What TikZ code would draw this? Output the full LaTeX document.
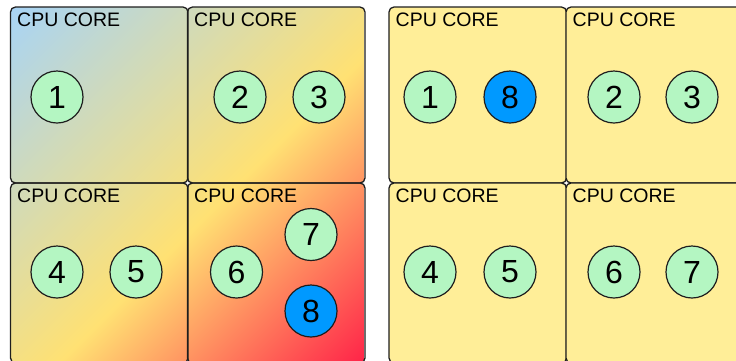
\documentclass[tikz,border=0pt]{standalone}
\usepackage{fontspec}
\setmainfont{Liberation Sans}

\definecolor{cpublue}{HTML}{A8D4F6}
\definecolor{cpuyellow}{HTML}{FFE173}
\definecolor{cpured}{HTML}{FF2448}
\definecolor{corefill}{HTML}{FFEE98}
\definecolor{threadgreen}{HTML}{B4F6C2}
\definecolor{threadblue}{HTML}{0099FF}
\definecolor{edge}{HTML}{1E1E1E}

% diagonal gradient: blue (top left) -> yellow -> red (bottom right)
\pgfdeclarehorizontalshading{cpudiag}{100bp}{%
  color(0bp)=(cpublue); color(14.6bp)=(cpublue);
  color(55bp)=(cpuyellow);
  color(85.4bp)=(cpured); color(100bp)=(cpured)}

\tikzset{
  corebox/.style={draw=edge, line width=1.3pt, rounded corners=5pt,
    minimum width=177.5pt, minimum height=176pt, inner sep=0pt, outer sep=0pt},
  lowbox/.style={corebox, minimum height=180pt},
  corelabel/.style={anchor=base west, inner sep=0pt, font=\fontsize{19.5pt}{20pt}\selectfont},
  thread/.style={circle, draw=edge, line width=1.2pt, fill=threadgreen,
    minimum size=52pt, inner sep=0pt, font=\fontsize{32pt}{32pt}\selectfont},
  hot/.style={fill=threadblue},
}

\begin{document}
\begin{tikzpicture}[x=1pt, y=-1pt]
\useasboundingbox (0,0) rectangle (736,360);

% ---- left processor: shaded background under the four cores ----
\begin{scope}
  \clip[rounded corners=5pt]
    (10.5,7) rectangle (188,183)
    (188,7) rectangle (364.5,183)
    (10.5,183) rectangle (188,363)
    (188,183) rectangle (364.5,363);
  \shade[shading=cpudiag, shading angle=-45] (10.5,7) rectangle (364.5,362);
\end{scope}

\node[corebox] (L1) at (99.25,95) {};
\node[corebox] (L2) at (276.25,95) {};
\node[lowbox] (L3) at (99.25,273) {};
\node[lowbox] (L4) at (276.25,273) {};

% ---- right processor ----
\node[corebox, fill=corefill] (R1) at (477.75,95) {};
\node[corebox, fill=corefill] (R2) at (654.75,95) {};
\node[lowbox, fill=corefill] (R3) at (477.75,273) {};
\node[lowbox, fill=corefill] (R4) at (654.75,273) {};

% core labels
\foreach \c in {L1,L2,L3,L4,R1,R2,R3,R4}
  \node[corelabel] (\c t) at ([xshift=6.5pt,yshift=-19.5pt]\c.north west) {CPU CORE};

% ---- threads, left processor ----
\node[thread] (a1) at (57,97) {1};
\node[thread] (a2) at (240,97) {2};
\node[thread] (a3) at (319,97) {3};
\node[thread] (a4) at (57,272) {4};
\node[thread] (a5) at (136,272) {5};
\node[thread] (a6) at (236.5,272) {6};
\node[thread] (a7) at (311,234.5) {7};
\node[thread, hot] (a8) at (311,311) {8};

% ---- threads, right processor ----
\node[thread] (b1) at (430,97) {1};
\node[thread, hot] (b8) at (510,97) {8};
\node[thread] (b2) at (614,97) {2};
\node[thread] (b3) at (692,97) {3};
\node[thread] (b4) at (430,272) {4};
\node[thread] (b5) at (510,272) {5};
\node[thread] (b6) at (614,272) {6};
\node[thread] (b7) at (692,272) {7};
\end{tikzpicture}
\end{document}
